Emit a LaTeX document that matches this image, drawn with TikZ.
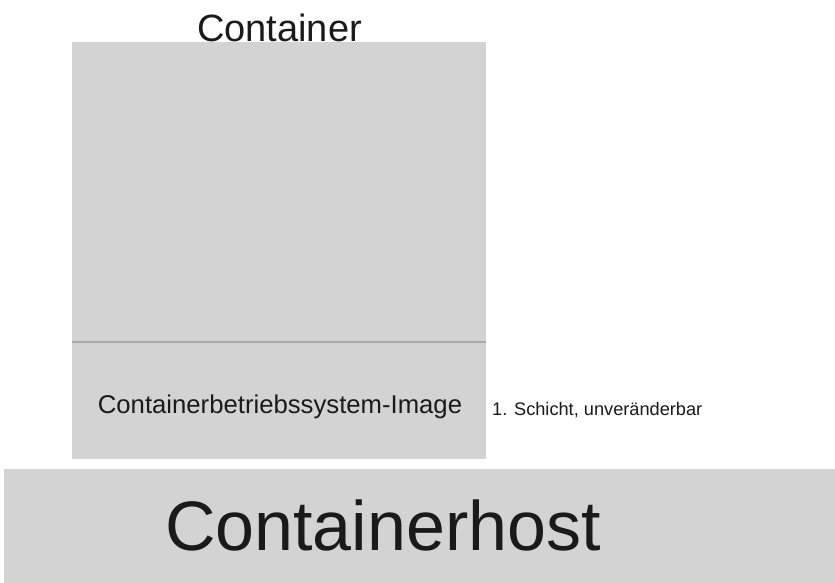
\documentclass[tikz,border=0pt]{standalone}
\usepackage{fontspec}
\setmainfont{Liberation Sans}
\definecolor{boxgray}{HTML}{D3D3D3}
\definecolor{linegray}{HTML}{A9A9A9}
\definecolor{txt}{HTML}{1A1A1A}
\begin{document}
\begin{tikzpicture}[x=1pt,y=-1pt,
  panel/.style={fill=boxgray,draw=none,inner sep=0pt,anchor=north west},
  lbl/.style={text=txt,inner sep=0pt,anchor=base},
  divider/.style={draw=linegray,line width=1.2pt}]
\useasboundingbox[fill=white] (0,0) rectangle (835,583);
\node[panel,minimum width=413.5pt,minimum height=417pt] (cont) at (72,42) {};
\node[panel,minimum width=831pt,minimum height=114pt] (host) at (4,469) {};
\coordinate (dl) at (72,342);
\coordinate (dr) at (485.5,342);
\draw[divider] (dl) -- (dr);
\node[lbl,font=\fontsize{38}{40}\selectfont] (title) at (279.5,42) {Container};
\node[lbl,font=\fontsize{25.7}{28}\selectfont] (img) at (280,413) {Containerbetriebssystem-Image};
\node[lbl,font=\fontsize{18.2}{20}\selectfont,anchor=base west] (layer) at (492,415.5) {1. Schicht, unveränderbar};
\node[lbl,font=\fontsize{70}{72}\selectfont] (hostlbl) at (383,550) {Containerhost};
\end{tikzpicture}
\end{document}
